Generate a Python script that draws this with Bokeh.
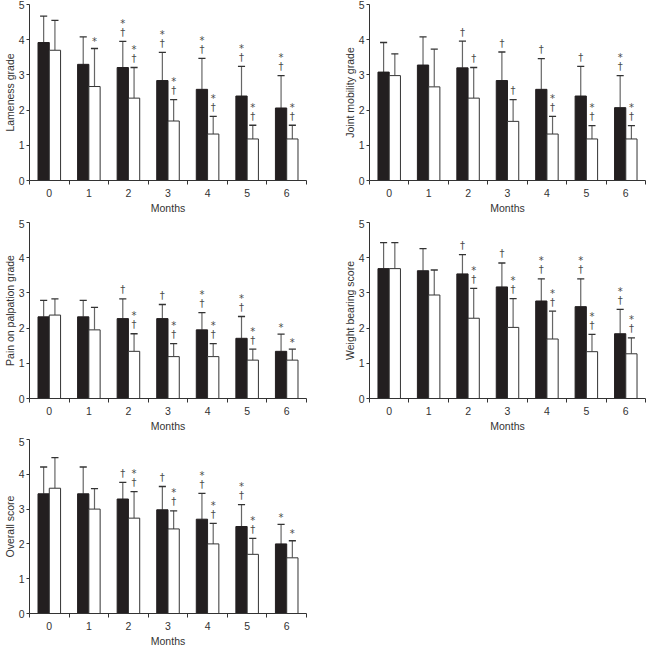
from bokeh.plotting import figure
from bokeh.layouts import column, row
from bokeh.models import FixedTicker, ColumnDataSource, Range1d, Title
from bokeh.transform import dodge
from bokeh.embed import file_html
from bokeh.resources import INLINE
from bokeh.core.properties import value

months = [0, 1, 2, 3, 4, 5, 6]
month_labels = ["0", "1", "2", "3", "4", "5", "6"]
y_ticks = [0, 1, 2, 3, 4, 5]

# Lameness grade
lame_black_mean = [3.92, 3.30, 3.21, 2.84, 2.59, 2.40, 2.06]
lame_black_sd = [0.75, 0.78, 0.74, 0.80, 0.88, 0.84, 0.92]
lame_white_mean = [3.70, 2.67, 2.34, 1.69, 1.32, 1.18, 1.18]
lame_white_sd = [0.85, 1.08, 0.87, 0.61, 0.50, 0.39, 0.39]
lame_black_sig = ["", "", "*†", "*†", "*†", "*†", "*†"]
lame_white_sig = ["", "*", "*†", "*†", "*†", "*†", "*†"]

# Joint mobility grade
joint_black_mean = [3.08, 3.28, 3.20, 2.84, 2.59, 2.40, 2.07]
joint_black_sd = [0.84, 0.80, 0.76, 0.81, 0.87, 0.84, 0.91]
joint_white_mean = [2.98, 2.66, 2.34, 1.68, 1.32, 1.18, 1.18]
joint_white_sd = [0.62, 1.07, 0.87, 0.62, 0.50, 0.38, 0.38]
joint_black_sig = ["", "", "†", "†", "†", "†", "*†"]
joint_white_sig = ["", "", "†", "†", "*†", "*†", "*†"]

# Pain on palpation grade
pain_black_mean = [2.32, 2.32, 2.27, 2.27, 1.95, 1.71, 1.34]
pain_black_sd = [0.47, 0.47, 0.56, 0.40, 0.49, 0.62, 0.49]
pain_white_mean = [2.37, 1.95, 1.34, 1.19, 1.19, 1.09, 1.09]
pain_white_sd = [0.46, 0.64, 0.50, 0.37, 0.37, 0.31, 0.31]
pain_black_sig = ["", "", "†", "†", "*†", "*†", "*"]
pain_white_sig = ["", "", "*†", "*†", "*†", "*†", "*"]

# Weight bearing score
wb_black_mean = [3.69, 3.63, 3.54, 3.17, 2.77, 2.61, 1.84]
wb_black_sd = [0.74, 0.63, 0.55, 0.68, 0.63, 0.79, 0.69]
wb_white_mean = [3.69, 2.94, 2.28, 2.02, 1.69, 1.33, 1.27]
wb_white_sd = [0.74, 0.71, 0.85, 0.82, 0.79, 0.49, 0.45]
wb_black_sig = ["", "", "†", "†", "*†", "*†", "*†"]
wb_white_sig = ["", "", "*†", "*†", "*†", "*†", "*†"]

# Overall score
ov_black_mean = [3.44, 3.44, 3.29, 2.98, 2.71, 2.50, 2.00]
ov_black_sd = [0.77, 0.77, 0.48, 0.67, 0.74, 0.63, 0.56]
ov_white_mean = [3.60, 3.00, 2.74, 2.43, 2.00, 1.70, 1.60]
ov_white_sd = [0.88, 0.59, 0.76, 0.52, 0.59, 0.46, 0.49]
ov_black_sig = ["", "", "†", "†", "*†", "*†", "*"]
ov_white_sig = ["", "", "*†", "*†", "*†", "*†", "*"]

FONT = "Liberation Sans"
SYM_FONT = "DejaVu Sans"
BAR_W = 0.285
CAP = 0.09
TXT = "#333333"


def add_series(p, mean, sd, sig, offset, fill, line):
    top = [m + s for m, s in zip(mean, sd)]
    dag = ["†" if "†" in s else "" for s in sig]
    star_hi = ["*" if ("*" in s and "†" in s) else "" for s in sig]
    star_lo = ["*" if s == "*" else "" for s in sig]
    src = ColumnDataSource(dict(month=months, mean=mean, top=top,
                                dag=dag, star_hi=star_hi, star_lo=star_lo))
    xc = dodge("month", offset)
    p.segment(x0=xc, y0="mean", x1=xc, y1="top", source=src,
              line_color="#666666", line_width=1.2)
    p.segment(x0=dodge("month", offset - CAP), y0="top",
              x1=dodge("month", offset + CAP), y1="top", source=src,
              line_color="#333333", line_width=1.3)
    p.vbar(x=xc, top="mean", bottom=0, width=BAR_W, source=src,
           fill_color=fill, line_color=line, line_width=1)
    common = dict(x=xc, y="top", source=src, text_align="center",
                  text_baseline="middle", text_font=value(SYM_FONT),
                  text_font_size="10px", text_color="#4a4a4a")
    p.text(text="dag", y_offset=-9, **common)
    p.text(text="star_hi", y_offset=-18, **common)
    p.text(text="star_lo", y_offset=-7, **common)


def make_panel(ylabel, bm, bsd, bsig, wm, wsd, wsig, width, height,
               bl, br, bt, bb):
    p = figure(width=width, height=height,
               x_range=Range1d(-0.5, 6.5), y_range=Range1d(0, 5),
               output_backend="svg", toolbar_location=None,
               min_border_left=bl, min_border_right=br,
               min_border_top=bt, min_border_bottom=bb)
    p.outline_line_color = None
    p.grid.visible = False
    p.background_fill_color = "white"
    p.border_fill_color = "white"

    add_series(p, bm, bsd, bsig, -BAR_W / 2, "#231f20", "#231f20")
    add_series(p, wm, wsd, wsig, BAR_W / 2, "#ffffff", "#333333")

    xt = FixedTicker(ticks=months,
                     minor_ticks=[m - 0.5 for m in months] + [months[-1] + 0.5])
    p.xaxis.ticker = xt
    p.xaxis.major_label_overrides = {m: l for m, l in zip(months, month_labels)}
    p.xaxis.major_tick_out = 0
    p.xaxis.major_tick_in = 0
    p.xaxis.minor_tick_out = 4
    p.xaxis.minor_tick_in = 0
    p.xaxis.minor_tick_line_color = "#333333"
    p.xaxis.major_label_standoff = 4

    p.yaxis.ticker = FixedTicker(ticks=y_ticks, minor_ticks=[])
    p.yaxis.major_tick_out = 3
    p.yaxis.major_tick_in = 0
    p.yaxis.major_label_standoff = 2

    for ax in (p.xaxis, p.yaxis):
        ax.axis_line_color = "#333333"
        ax.major_tick_line_color = "#333333"
        ax.major_label_text_font = FONT
        ax.major_label_text_font_size = "10.5px"
        ax.major_label_text_color = TXT

    p.add_layout(Title(text=ylabel, align="center", standoff=0,
                       text_font=FONT, text_font_size="10.5px",
                       text_font_style="normal", text_color=TXT), "left")
    p.add_layout(Title(text="Months", align="center", standoff=1,
                       text_font=FONT, text_font_size="10.5px",
                       text_font_style="normal", text_color=TXT), "below")
    return p


p1 = make_panel("Lameness grade", lame_black_mean, lame_black_sd, lame_black_sig,
                lame_white_mean, lame_white_sd, lame_white_sig,
                340, 219, 29, 34, 4, 39)
p2 = make_panel("Joint mobility grade", joint_black_mean, joint_black_sd, joint_black_sig,
                joint_white_mean, joint_white_sd, joint_white_sig,
                307, 219, 29, 2, 4, 39)
p3 = make_panel("Pain on palpation grade", pain_black_mean, pain_black_sd, pain_black_sig,
                pain_white_mean, pain_white_sd, pain_white_sig,
                340, 218, 29, 34, 3, 39)
p4 = make_panel("Weight bearing score", wb_black_mean, wb_black_sd, wb_black_sig,
                wb_white_mean, wb_white_sd, wb_white_sig,
                307, 218, 29, 2, 3, 39)
p5 = make_panel("Overall score", ov_black_mean, ov_black_sd, ov_black_sig,
                ov_white_mean, ov_white_sd, ov_white_sig,
                340, 210, 29, 34, 2, 33)

layout = column(row(p1, p2), row(p3, p4), row(p5),
                styles={"position": "absolute", "left": "0px", "top": "0px"})

open("out.html", "w").write(file_html(layout, INLINE, title="Scores by month"))
